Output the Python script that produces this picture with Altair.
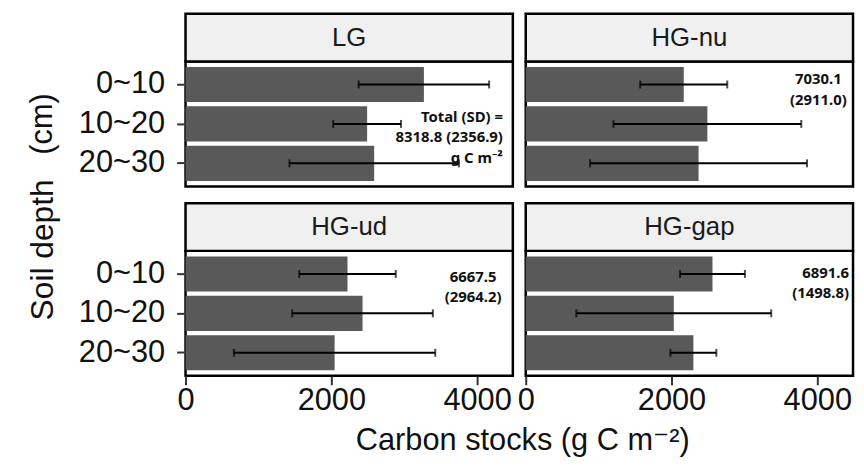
import altair as alt
import pandas as pd

# ---- data ----
panels = ["LG", "HG-nu", "HG-ud", "HG-gap"]
depths = ["0~10", "10~20", "20~30"]
means = {
    "LG": [3270, 2491, 2588],
    "HG-nu": [2168, 2492, 2371],
    "HG-ud": [2222, 2428, 2045],
    "HG-gap": [2562, 2031, 2300],
}
sds = {
    "LG": [895, 465, 1162],
    "HG-nu": [597, 1288, 1488],
    "HG-ud": [662, 965, 1381],
    "HG-gap": [445, 1337, 315],
}
totals = [8318.8, 7030.1, 6667.5, 6891.6]
total_sds = [2356.9, 2911.0, 2964.2, 1498.8]
x_ticks = [0, 2000, 4000]

rows = []
for p in panels:
    for d, m, s in zip(depths, means[p], sds[p]):
        rows.append({"panel": p, "depth": d, "mean": m, "sd": s})
df = pd.DataFrame(rows)
df["lo"] = df["mean"] - df["sd"]
df["hi"] = df["mean"] + df["sd"]

labels = []
for i, p in enumerate(panels):
    if p == "LG":
        labels.append(f"Total (SD) =\n{totals[i]:.1f} ({total_sds[i]:.1f})\ng C m\u207b\u00b2")
    else:
        labels.append(f"{totals[i]:.1f}\n({total_sds[i]:.1f})")

# ---- layout / style ----
W, H = 330, 126
XMAX = 4490
FONT = "Liberation Sans, Arial"
ANN_FONT = "Noto Sans"
STRIP_H = 48
TICK_COLOR = "#333333"

ann_pos = {
    "LG": dict(x=320, y=56, align="right"),
    "HG-nu": dict(x=295, y=18, align="center"),
    "HG-ud": dict(x=290, y=26, align="center"),
    "HG-gap": dict(x=326, y=22, align="right"),
}


def panel(i, name, left, bottom):
    d = df[df.panel == name]
    base = alt.Chart(d)
    if left:
        yaxis = alt.Axis(title=None, labelFontSize=31, labelFont=FONT, labelColor="#111111",
                         ticks=True, tickSize=9, tickWidth=2, tickColor=TICK_COLOR,
                         tickOpacity=1, labelPadding=12, domain=False, grid=False)
    else:
        yaxis = None
    if bottom:
        xaxis = alt.Axis(title=None, values=x_ticks, format="d", labelFontSize=31,
                         labelFont=FONT, labelColor="#111111", ticks=True, tickSize=9,
                         tickWidth=2, tickColor=TICK_COLOR, tickOpacity=1,
                         labelPadding=1, domain=False, grid=False, labelFlush=False,
                         labelOverlap=False)
    else:
        xaxis = None
    yscale = alt.Scale(paddingInner=0.11, paddingOuter=0.14)
    xscale = alt.Scale(domain=[0, XMAX], nice=False, zero=True)

    def X(field):
        return alt.X(field, type="quantitative", scale=xscale, axis=xaxis)

    Y = alt.Y("depth:N", sort=depths, scale=yscale, axis=yaxis)

    bars = base.mark_bar(color="#595959").encode(x=X("mean"), y=Y)
    rule = base.mark_rule(color="black", strokeWidth=2).encode(x=X("lo"), x2="hi:Q", y=Y)
    cap_lo = base.mark_tick(color="black", size=8, thickness=2).encode(x=X("lo"), y=Y)
    cap_hi = base.mark_tick(color="black", size=8, thickness=2).encode(x=X("hi"), y=Y)

    one = pd.DataFrame({"panel": [name], "label": [labels[i]]})
    strip_bg = alt.Chart(one).mark_rect(fill="#F0F0F0", stroke="black", strokeWidth=2.5).encode(
        x=alt.value(0), x2=alt.value(W), y=alt.value(-STRIP_H), y2=alt.value(0))
    strip_txt = alt.Chart(one).mark_text(fontSize=26, font=FONT, color="#1a1a1a",
                                         baseline="middle", align="center").encode(
        text="panel:N", x=alt.value(W / 2), y=alt.value(-STRIP_H / 2))
    ap = ann_pos[name]
    ann = alt.Chart(one).mark_text(font=ANN_FONT, fontWeight="bold", fontSize=15,
                                   lineBreak="\n", lineHeight=20.5, align=ap["align"],
                                   baseline="middle", color="#111111").encode(
        text="label:N", x=alt.value(ap["x"]), y=alt.value(ap["y"]))

    layers = [bars, rule, cap_lo, cap_hi, strip_bg, strip_txt, ann]
    if name == "LG":
        yt1 = alt.Chart(one).mark_text(text="Soil depth", angle=270, fontSize=32,
                                       font=FONT, color="#111111", baseline="middle",
                                       align="center").encode(
            x=alt.value(-144), y=alt.value(190))
        yt2 = alt.Chart(one).mark_text(text="(cm)", angle=270, fontSize=31,
                                       font=FONT, color="#111111", baseline="middle",
                                       align="center").encode(
            x=alt.value(-144), y=alt.value(63))
        layers += [yt1, yt2]
    if name == "HG-gap":
        xtitle = alt.Chart(one).mark_text(text="Carbon stocks (g C m\u207b\u00b2)", fontSize=31,
                                          font="Liberation Sans, DejaVu Sans", color="#111111",
                                          baseline="middle", align="center").encode(
            x=alt.value(-3), y=alt.value(192))
        layers.append(xtitle)
    return alt.layer(*layers).properties(width=W, height=H)


charts = [
    panel(0, "LG", True, False),
    panel(1, "HG-nu", False, False),
    panel(2, "HG-ud", True, True),
    panel(3, "HG-gap", False, True),
]

chart = alt.concat(*charts, columns=2, spacing={"row": 17 + STRIP_H, "column": 13},
                   bounds="flush").properties(
    padding={"left": 17, "top": 1, "right": 0, "bottom": 2},
    background="white",
).configure_view(stroke="black", strokeWidth=2.5).configure_axis(
    ticks=True, tickSize=9, tickWidth=2, tickColor=TICK_COLOR)

chart.save("out.html", embed_options={"renderer": "svg", "actions": False})
